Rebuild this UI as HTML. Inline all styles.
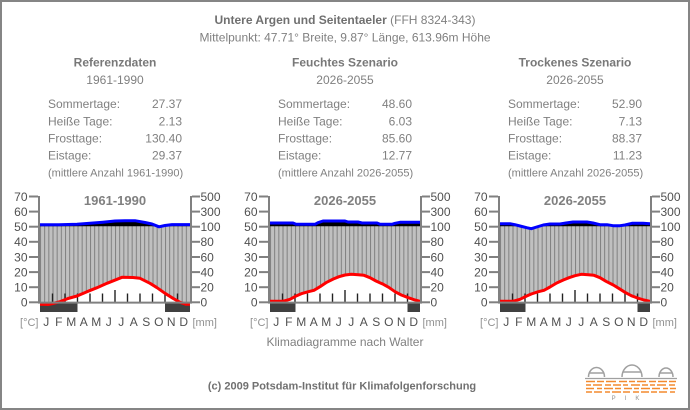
<!DOCTYPE html>
<html><head><meta charset="utf-8">
<style>
html,body{margin:0;padding:0;background:#fff;}
svg{display:block;}
text{font-family:"Liberation Sans",Arial,sans-serif;}
</style></head>
<body>
<svg width="690" height="410" viewBox="0 0 690 410" xmlns="http://www.w3.org/2000/svg">
<defs>
  <pattern id="hatch" x="40" y="0" width="4.1667" height="20" patternUnits="userSpaceOnUse">
    <rect x="0" y="0" width="1" height="20" fill="#808080"/>
  </pattern>
  <clipPath id="above" clipPathUnits="userSpaceOnUse"><rect x="30" y="180" width="170" height="46.2"/></clipPath>
</defs>
<rect x="0" y="0" width="690" height="410" fill="#fff"/>
<rect x="1" y="1" width="688" height="408" fill="none" stroke="#858585" stroke-width="2"/>

<!-- Header -->
<text x="345" y="24" text-anchor="middle" font-size="12" fill="#707070"><tspan font-weight="bold">Untere Argen und Seitentaeler</tspan><tspan fill="#808080"> (FFH 8324-343)</tspan></text>
<text x="345" y="41.5" text-anchor="middle" font-size="12" fill="#808080">Mittelpunkt: 47.71° Breite, 9.87° Länge, 613.96m Höhe</text>

<!-- Column headers & stats -->
<g font-size="12" fill="#808080">
  <text x="115" y="66.5" text-anchor="middle" font-weight="bold" fill="#787878">Referenzdaten</text>
  <text x="115" y="84" text-anchor="middle">1961-1990</text>
  <text x="48" y="108">Sommertage:</text><text x="182" y="108" text-anchor="end">27.37</text>
  <text x="48" y="125.5">Heiße Tage:</text><text x="182" y="125.5" text-anchor="end">2.13</text>
  <text x="48" y="142.5">Frosttage:</text><text x="182" y="142.5" text-anchor="end">130.40</text>
  <text x="48" y="159.5">Eistage:</text><text x="182" y="159.5" text-anchor="end">29.37</text>
  <text x="48" y="176.5" font-size="11">(mittlere Anzahl 1961-1990)</text>

  <text x="345" y="66.5" text-anchor="middle" font-weight="bold" fill="#787878">Feuchtes Szenario</text>
  <text x="345" y="84" text-anchor="middle">2026-2055</text>
  <text x="278" y="108">Sommertage:</text><text x="412" y="108" text-anchor="end">48.60</text>
  <text x="278" y="125.5">Heiße Tage:</text><text x="412" y="125.5" text-anchor="end">6.03</text>
  <text x="278" y="142.5">Frosttage:</text><text x="412" y="142.5" text-anchor="end">85.60</text>
  <text x="278" y="159.5">Eistage:</text><text x="412" y="159.5" text-anchor="end">12.77</text>
  <text x="278" y="176.5" font-size="11">(mittlere Anzahl 2026-2055)</text>

  <text x="575" y="66.5" text-anchor="middle" font-weight="bold" fill="#787878">Trockenes Szenario</text>
  <text x="575" y="84" text-anchor="middle">2026-2055</text>
  <text x="508" y="108">Sommertage:</text><text x="642" y="108" text-anchor="end">52.90</text>
  <text x="508" y="125.5">Heiße Tage:</text><text x="642" y="125.5" text-anchor="end">7.13</text>
  <text x="508" y="142.5">Frosttage:</text><text x="642" y="142.5" text-anchor="end">88.37</text>
  <text x="508" y="159.5">Eistage:</text><text x="642" y="159.5" text-anchor="end">11.23</text>
  <text x="508" y="176.5" font-size="11">(mittlere Anzahl 2026-2055)</text>
</g>

<!-- ===== Chart 1 ===== -->
<g transform="translate(0,0)">
  <polygon fill="#c0c0c0" points="40,224.7 59,224.7 77,224.2 90,223.3 103,222.2 115,221 125,220.7 135,220.7 145,222.5 152,224 159,226.8 165,225.5 172,224.6 190,224.6 190,302.3 40,302.3"/>
  <polygon fill="url(#hatch)" points="40,224.7 59,224.7 77,224.2 90,223.3 103,222.2 115,221 125,220.7 135,220.7 145,222.5 152,224 159,226.8 165,225.5 172,224.6 190,224.6 190,302.3 40,302.3"/>
  <polygon fill="#000" clip-path="url(#above)" points="40,224.7 59,224.7 77,224.2 90,223.3 103,222.2 115,221 125,220.7 135,220.7 145,222.5 152,224 159,226.8 165,225.5 172,224.6 190,224.6 190,302.3 40,302.3"/>
  <polygon fill="#fff" points="40,304.3 48,304.5 53,303.5 60,301.7 68,298.5 77,296 87,291.7 97,287.7 107,283.3 117,279.3 122,277.3 133,277.5 140,278.3 150,283.3 157,287.7 165,293.3 173,298.3 180,302.3 186,304.3 190,304.3 190,302.3 40,302.3"/>
  <g stroke="#222" stroke-width="1.4">
    <line x1="52.5" y1="302" x2="52.5" y2="293.5"/><line x1="65" y1="302" x2="65" y2="293.5"/>
    <line x1="77.5" y1="302" x2="77.5" y2="293.5"/><line x1="90" y1="302" x2="90" y2="293.5"/>
    <line x1="102.5" y1="302" x2="102.5" y2="293.5"/><line x1="115" y1="302" x2="115" y2="290"/>
    <line x1="127.5" y1="302" x2="127.5" y2="293.5"/><line x1="140" y1="302" x2="140" y2="293.5"/>
    <line x1="152.5" y1="302" x2="152.5" y2="293.5"/><line x1="165" y1="302" x2="165" y2="293.5"/>
    <line x1="177.5" y1="302" x2="177.5" y2="293.5"/>
  </g>
  <rect x="40" y="303.3" width="37.5" height="8.7" fill="#404040"/>
  <rect x="165" y="303.3" width="25" height="8.7" fill="#404040"/>
  <polyline fill="none" stroke="#0000ff" stroke-width="3" stroke-linejoin="round" points="40,224.7 59,224.7 77,224.2 90,223.3 103,222.2 115,221 125,220.7 135,220.7 145,222.5 152,224 159,226.8 165,225.5 172,224.6 190,224.6"/>
  <polyline fill="none" stroke="#ff0000" stroke-width="3" stroke-linejoin="round" points="40,304.3 48,304.5 53,303.5 60,301.7 68,298.5 77,296 87,291.7 97,287.7 107,283.3 117,279.3 122,277.3 133,277.5 140,278.3 150,283.3 157,287.7 165,293.3 173,298.3 180,302.3 186,304.3 190,304.3"/>
</g>

<!-- ===== Chart 2 ===== -->
<g transform="translate(230,0)">
  <polygon fill="#c0c0c0" points="40,223 63,223 66,224.3 85,224.3 88,222.7 93,221 115,221 118,222 128,222 132,223 147,223 150,224.3 162,224.3 165,223.3 170,222.3 190,222.3 190,302.3 40,302.3"/>
  <polygon fill="url(#hatch)" points="40,223 63,223 66,224.3 85,224.3 88,222.7 93,221 115,221 118,222 128,222 132,223 147,223 150,224.3 162,224.3 165,223.3 170,222.3 190,222.3 190,302.3 40,302.3"/>
  <polygon fill="#000" clip-path="url(#above)" points="40,223 63,223 66,224.3 85,224.3 88,222.7 93,221 115,221 118,222 128,222 132,223 147,223 150,224.3 162,224.3 165,223.3 170,222.3 190,222.3 190,302.3 40,302.3"/>
  <polygon fill="#fff" points="40,301.3 51.7,301.3 55,300.7 60,299.3 66.7,295.7 71.3,293.7 78.3,291.7 84,290.3 90,286.7 96.7,282.3 103.3,279 109,276.7 115,275 121.3,274.3 128.3,274.7 134,275.3 140,277.7 146,281 153.3,284.3 158.7,287.3 165,291.7 171.3,295 178.3,297.7 184,299.7 190,301.3 190,302.3 40,302.3"/>
  <g stroke="#222" stroke-width="1.4">
    <line x1="52.5" y1="302" x2="52.5" y2="293.5"/><line x1="65" y1="302" x2="65" y2="293.5"/>
    <line x1="77.5" y1="302" x2="77.5" y2="293.5"/><line x1="90" y1="302" x2="90" y2="293.5"/>
    <line x1="102.5" y1="302" x2="102.5" y2="293.5"/><line x1="115" y1="302" x2="115" y2="290"/>
    <line x1="127.5" y1="302" x2="127.5" y2="293.5"/><line x1="140" y1="302" x2="140" y2="293.5"/>
    <line x1="152.5" y1="302" x2="152.5" y2="293.5"/><line x1="165" y1="302" x2="165" y2="293.5"/>
    <line x1="177.5" y1="302" x2="177.5" y2="293.5"/>
  </g>
  <rect x="40" y="303.3" width="25.5" height="8.7" fill="#404040"/>
  <rect x="177.5" y="303.3" width="12.5" height="8.7" fill="#404040"/>
  <polyline fill="none" stroke="#0000ff" stroke-width="3" stroke-linejoin="round" points="40,223 63,223 66,224.3 85,224.3 88,222.7 93,221 115,221 118,222 128,222 132,223 147,223 150,224.3 162,224.3 165,223.3 170,222.3 190,222.3"/>
  <polyline fill="none" stroke="#ff0000" stroke-width="3" stroke-linejoin="round" points="40,301.3 51.7,301.3 55,300.7 60,299.3 66.7,295.7 71.3,293.7 78.3,291.7 84,290.3 90,286.7 96.7,282.3 103.3,279 109,276.7 115,275 121.3,274.3 128.3,274.7 134,275.3 140,277.7 146,281 153.3,284.3 158.7,287.3 165,291.7 171.3,295 178.3,297.7 184,299.7 190,301.3"/>
</g>

<!-- ===== Chart 3 ===== -->
<g transform="translate(460,0)">
  <polygon fill="#c0c0c0" points="40,223.7 50,223.7 55,224.7 60,226 66.7,227.7 71.3,228.7 76.7,227 83.3,225 90,224 100,224 106,223 113,222 127,222 133,223 140,224.7 147,224.7 153,225.7 160,225.7 165,225 172,223.3 183,223.3 190,223.7 190,302.3 40,302.3"/>
  <polygon fill="url(#hatch)" points="40,223.7 50,223.7 55,224.7 60,226 66.7,227.7 71.3,228.7 76.7,227 83.3,225 90,224 100,224 106,223 113,222 127,222 133,223 140,224.7 147,224.7 153,225.7 160,225.7 165,225 172,223.3 183,223.3 190,223.7 190,302.3 40,302.3"/>
  <polygon fill="#000" clip-path="url(#above)" points="40,223.7 50,223.7 55,224.7 60,226 66.7,227.7 71.3,228.7 76.7,227 83.3,225 90,224 100,224 106,223 113,222 127,222 133,223 140,224.7 147,224.7 153,225.7 160,225.7 165,225 172,223.3 183,223.3 190,223.7 190,302.3 40,302.3"/>
  <polygon fill="#fff" points="40,301.3 51.7,301.3 55,300.7 60,299.3 66.7,296 71.3,294 78.3,291.7 84,290.3 90,287 96.7,283 103.3,280 109,277.7 115,275.7 121.3,274.3 128.3,274.7 134,275.3 140,277.7 146,281.3 153.3,285 158.7,288.3 165,292.3 171.3,295.7 178.3,298.3 184,300 190,301.3 190,302.3 40,302.3"/>
  <g stroke="#222" stroke-width="1.4">
    <line x1="52.5" y1="302" x2="52.5" y2="293.5"/><line x1="65" y1="302" x2="65" y2="293.5"/>
    <line x1="77.5" y1="302" x2="77.5" y2="293.5"/><line x1="90" y1="302" x2="90" y2="293.5"/>
    <line x1="102.5" y1="302" x2="102.5" y2="293.5"/><line x1="115" y1="302" x2="115" y2="290"/>
    <line x1="127.5" y1="302" x2="127.5" y2="293.5"/><line x1="140" y1="302" x2="140" y2="293.5"/>
    <line x1="152.5" y1="302" x2="152.5" y2="293.5"/><line x1="165" y1="302" x2="165" y2="293.5"/>
    <line x1="177.5" y1="302" x2="177.5" y2="293.5"/>
  </g>
  <rect x="40" y="303.3" width="25.5" height="8.7" fill="#404040"/>
  <rect x="177.5" y="303.3" width="12.5" height="8.7" fill="#404040"/>
  <polyline fill="none" stroke="#0000ff" stroke-width="3" stroke-linejoin="round" points="40,223.7 50,223.7 55,224.7 60,226 66.7,227.7 71.3,228.7 76.7,227 83.3,225 90,224 100,224 106,223 113,222 127,222 133,223 140,224.7 147,224.7 153,225.7 160,225.7 165,225 172,223.3 183,223.3 190,223.7"/>
  <polyline fill="none" stroke="#ff0000" stroke-width="3" stroke-linejoin="round" points="40,301.3 51.7,301.3 55,300.7 60,299.3 66.7,296 71.3,294 78.3,291.7 84,290.3 90,287 96.7,283 103.3,280 109,277.7 115,275.7 121.3,274.3 128.3,274.7 134,275.3 140,277.7 146,281.3 153.3,285 158.7,288.3 165,292.3 171.3,295.7 178.3,298.3 184,300 190,301.3"/>
</g>

<!-- Axes, ticks and labels for all three charts -->
<g id="ax1">
  <g stroke="#808080" stroke-width="2" fill="none">
    <line x1="39" y1="196" x2="39" y2="303.5"/>
    <line x1="191" y1="196" x2="191" y2="303.5"/>
    <line x1="38" y1="302.6" x2="192" y2="302.6"/>
    <line x1="29" y1="196.5" x2="38" y2="196.5"/><line x1="29" y1="211.6" x2="38" y2="211.6"/>
    <line x1="29" y1="226.7" x2="38" y2="226.7"/><line x1="29" y1="241.8" x2="38" y2="241.8"/>
    <line x1="29" y1="257" x2="38" y2="257"/><line x1="29" y1="272.1" x2="38" y2="272.1"/>
    <line x1="29" y1="287.2" x2="38" y2="287.2"/><line x1="29" y1="302.3" x2="38" y2="302.3"/>
    <line x1="192" y1="196.5" x2="200" y2="196.5"/><line x1="192" y1="211.6" x2="200" y2="211.6"/>
    <line x1="192" y1="226.7" x2="200" y2="226.7"/><line x1="192" y1="241.8" x2="200" y2="241.8"/>
    <line x1="192" y1="257" x2="200" y2="257"/><line x1="192" y1="272.1" x2="200" y2="272.1"/>
    <line x1="192" y1="287.2" x2="200" y2="287.2"/><line x1="192" y1="302.3" x2="200" y2="302.3"/>
  </g>
  <g font-size="12" fill="#505050">
    <text x="27.5" y="200.8" text-anchor="end">70</text><text x="27.5" y="215.9" text-anchor="end">60</text>
    <text x="27.5" y="231" text-anchor="end">50</text><text x="27.5" y="246.1" text-anchor="end">40</text>
    <text x="27.5" y="261.3" text-anchor="end">30</text><text x="27.5" y="276.4" text-anchor="end">20</text>
    <text x="27.5" y="291.5" text-anchor="end">10</text><text x="27.5" y="306.6" text-anchor="end">0</text>
    <text x="200.5" y="200.8">500</text><text x="200.5" y="215.9">300</text>
    <text x="200.5" y="231">100</text><text x="200.5" y="246.1">80</text>
    <text x="200.5" y="261.3">60</text><text x="200.5" y="276.4">40</text>
    <text x="200.5" y="291.5">20</text><text x="200.5" y="306.6">0</text>
  </g>
  <g font-size="12" fill="#505050" text-anchor="middle">
    <text x="46.25" y="326">J</text><text x="58.75" y="326">F</text><text x="71.25" y="326">M</text>
    <text x="83.75" y="326">A</text><text x="96.25" y="326">M</text><text x="108.75" y="326">J</text>
    <text x="121.25" y="326">J</text><text x="133.75" y="326">A</text><text x="146.25" y="326">S</text>
    <text x="158.75" y="326">O</text><text x="171.25" y="326">N</text><text x="183.75" y="326">D</text>
  </g>
  <text x="38.5" y="326" font-size="11" fill="#909090" text-anchor="end">[°C]</text>
  <text x="192.5" y="326" font-size="11" fill="#909090">[mm]</text>
</g>
<use href="#ax1" x="230" y="0"/>
<use href="#ax1" x="460" y="0"/>

<!-- chart titles -->
<g font-size="13" font-weight="bold" fill="#808080" text-anchor="middle">
  <text x="115" y="205">1961-1990</text>
  <text x="345" y="205">2026-2055</text>
  <text x="575" y="205">2026-2055</text>
</g>

<!-- Footer -->
<text x="345" y="346" text-anchor="middle" font-size="12" fill="#808080">Klimadiagramme nach Walter</text>
<text x="342" y="389.5" text-anchor="middle" font-size="11" font-weight="bold" fill="#707070">(c) 2009 Potsdam-Institut für Klimafolgenforschung</text>

<!-- PIK logo -->
<g>
  <g fill="none" stroke="#a0a0a0" stroke-width="1.5">
    <path d="M588.5,377 A8,9.5 0 0 1 604.5,377"/>
    <line x1="589.5" y1="373" x2="603.5" y2="373"/>
    <path d="M622,377 A10,12 0 0 1 642,377"/>
    <line x1="623" y1="372" x2="641" y2="372"/>
    <path d="M659,377 A7,9 0 0 1 673,377"/>
    <line x1="660" y1="373" x2="672" y2="373"/>
    <line x1="585" y1="378.5" x2="677" y2="378.5" stroke-width="1.3"/>
  </g>
  <g stroke="#f38a2e" stroke-width="1.6">
    <line x1="586" y1="381.5" x2="676" y2="381.5" stroke-dasharray="9,2,7,2,10,3,8,2,6,2,9,3,7,2"/>
    <line x1="586" y1="385" x2="676" y2="385" stroke-dasharray="5,2,9,3,6,2,8,2,5,3,9,2,6,2"/>
    <line x1="586" y1="388.5" x2="676" y2="388.5" stroke-dasharray="8,3,5,2,9,2,6,3,8,2,5,2,9,2"/>
    <line x1="586" y1="392" x2="676" y2="392" stroke-dasharray="6,2,8,3,5,2,9,2,7,3,6,2,8,2"/>
  </g>
  <text x="630" y="400" text-anchor="middle" font-size="6" fill="#909090" letter-spacing="9">PIK</text>
</g>
</svg>
</body></html>
